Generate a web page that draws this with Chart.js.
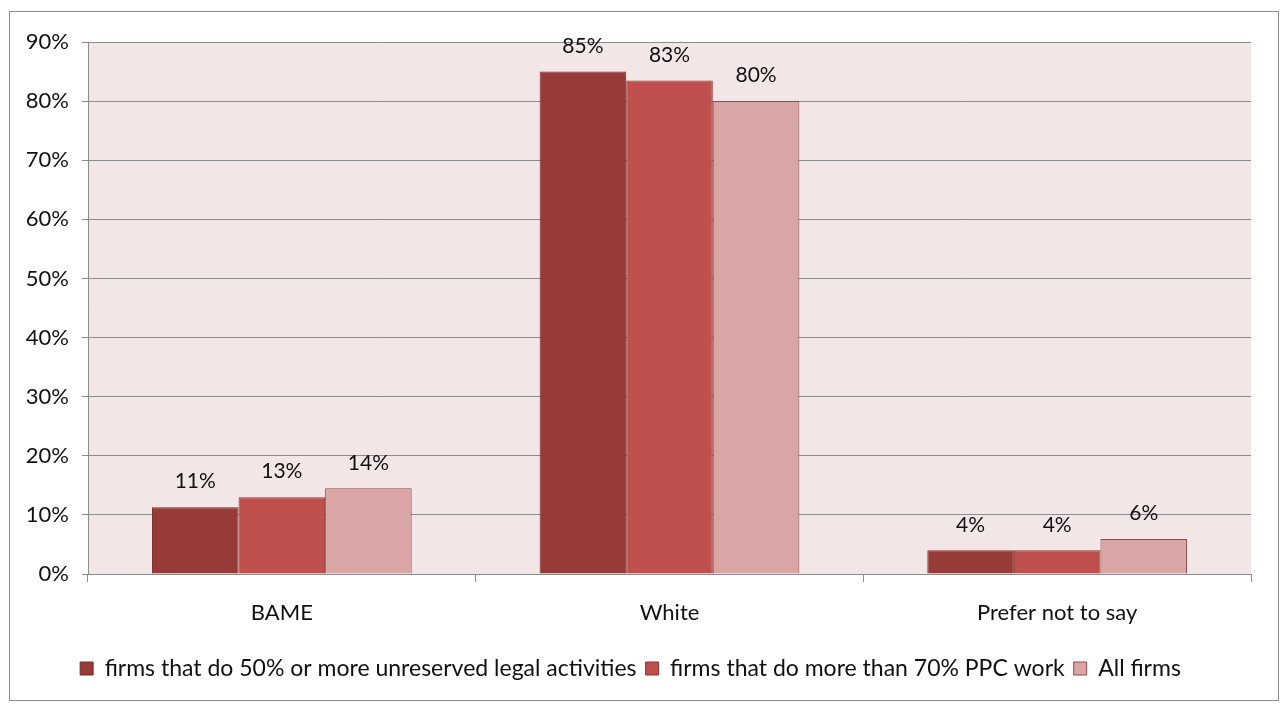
<!DOCTYPE html>
<html>
<head>
<meta charset="utf-8">
<script src="https://cdn.jsdelivr.net/npm/chart.js@4"></script>
<style>
  body { margin: 0; background: #fff; }
  #box {
    position: absolute; left: 9px; top: 11px;
    width: 1268px; height: 688px;
    border: 1px solid #8a8a8a; background: #fff;
  }
</style>
</head>
<body>
<div id="box"><canvas id="chart"></canvas></div>
<script>
const categories = ['BAME', 'White', 'Prefer not to say'];
const seriesNames = [
  'firms that do 50% or more unreserved legal activities',
  'firms that do more than 70% PPC work',
  'All firms'
];
const unreservedValues = [11.3, 85.0, 4.0];
const ppcValues = [13.0, 83.5, 4.0];
const allFirmsValues = [14.5, 80.0, 5.9];
// labels as printed on the chart
const unreservedLabels = ['11%', '85%', '4%'];
const ppcLabels = ['13%', '83%', '4%'];
const allFirmsLabels = ['14%', '80%', '6%'];
const yTicks = [0, 10, 20, 30, 40, 50, 60, 70, 80, 90];

const FONT = 'Lato, "Open Sans", sans-serif';

// pink plot area fill
const plotBg = {
  id: 'plotBg',
  beforeDraw(chart) {
    const { ctx, chartArea: a } = chart;
    ctx.save();
    ctx.fillStyle = '#f3e6e6';
    ctx.fillRect(a.left, a.top, a.right - a.left, a.bottom - a.top);
    ctx.restore();
  }
};

// value labels above bars
const barLabels = {
  id: 'barLabels',
  afterDatasetsDraw(chart) {
    const { ctx } = chart;
    ctx.save();
    ctx.font = '21px ' + FONT;
    ctx.fillStyle = '#111';
    ctx.textAlign = 'center';
    ctx.textBaseline = 'bottom';
    chart.data.datasets.forEach((ds, i) => {
      chart.getDatasetMeta(i).data.forEach((bar, j) => {
        ctx.fillText(ds.labels[j], bar.x, bar.y - 15);
      });
    });
    ctx.restore();
  }
};

new Chart(document.getElementById('chart'), {
  type: 'bar',
  data: {
    labels: categories,
    datasets: [
      { label: seriesNames[0], data: unreservedValues, labels: unreservedLabels,
        backgroundColor: '#973b39', borderColor: '#7a2c2a', borderWidth: 1 },
      { label: seriesNames[1], data: ppcValues, labels: ppcLabels,
        backgroundColor: '#c0504d', borderColor: '#8f3432', borderWidth: 1 },
      { label: seriesNames[2], data: allFirmsValues, labels: allFirmsLabels,
        backgroundColor: '#d9a5a5', borderColor: '#8a4a4a', borderWidth: 1 }
    ]
  },
  options: {
    responsive: true,
    maintainAspectRatio: false,
    animation: false,
    categoryPercentage: 0.67,
    barPercentage: 1,
    layout: { padding: { top: 30, right: 27, bottom: 10, left: 0 } },
    scales: {
      x: {
        grid: { offset: true, drawOnChartArea: false, tickLength: 8, color: '#8c8c8c' },
        border: { color: '#8c8c8c' },
        ticks: { color: '#111', font: { family: FONT, size: 22 }, padding: 18 },
        afterFit(scale) { scale.height = 74; }
      },
      y: {
        min: 0, max: 90,
        afterBuildTicks(scale) { scale.ticks = yTicks.map(v => ({ value: v })); },
        grid: { color: '#8c8c8c', tickLength: 6 },
        border: { color: '#8c8c8c' },
        ticks: {
          color: '#111', font: { family: FONT, size: 22 }, padding: 13,
          callback: v => v + '%'
        },
        afterFit(scale) { scale.width = 78; }
      }
    },
    plugins: {
      legend: {
        position: 'bottom',
        labels: {
          color: '#111', font: { family: FONT, size: 23 },
          boxWidth: 13, boxHeight: 13, padding: 9
        }
      },
      tooltip: { enabled: false }
    }
  },
  plugins: [plotBg, barLabels]
});
</script>
</body>
</html>
